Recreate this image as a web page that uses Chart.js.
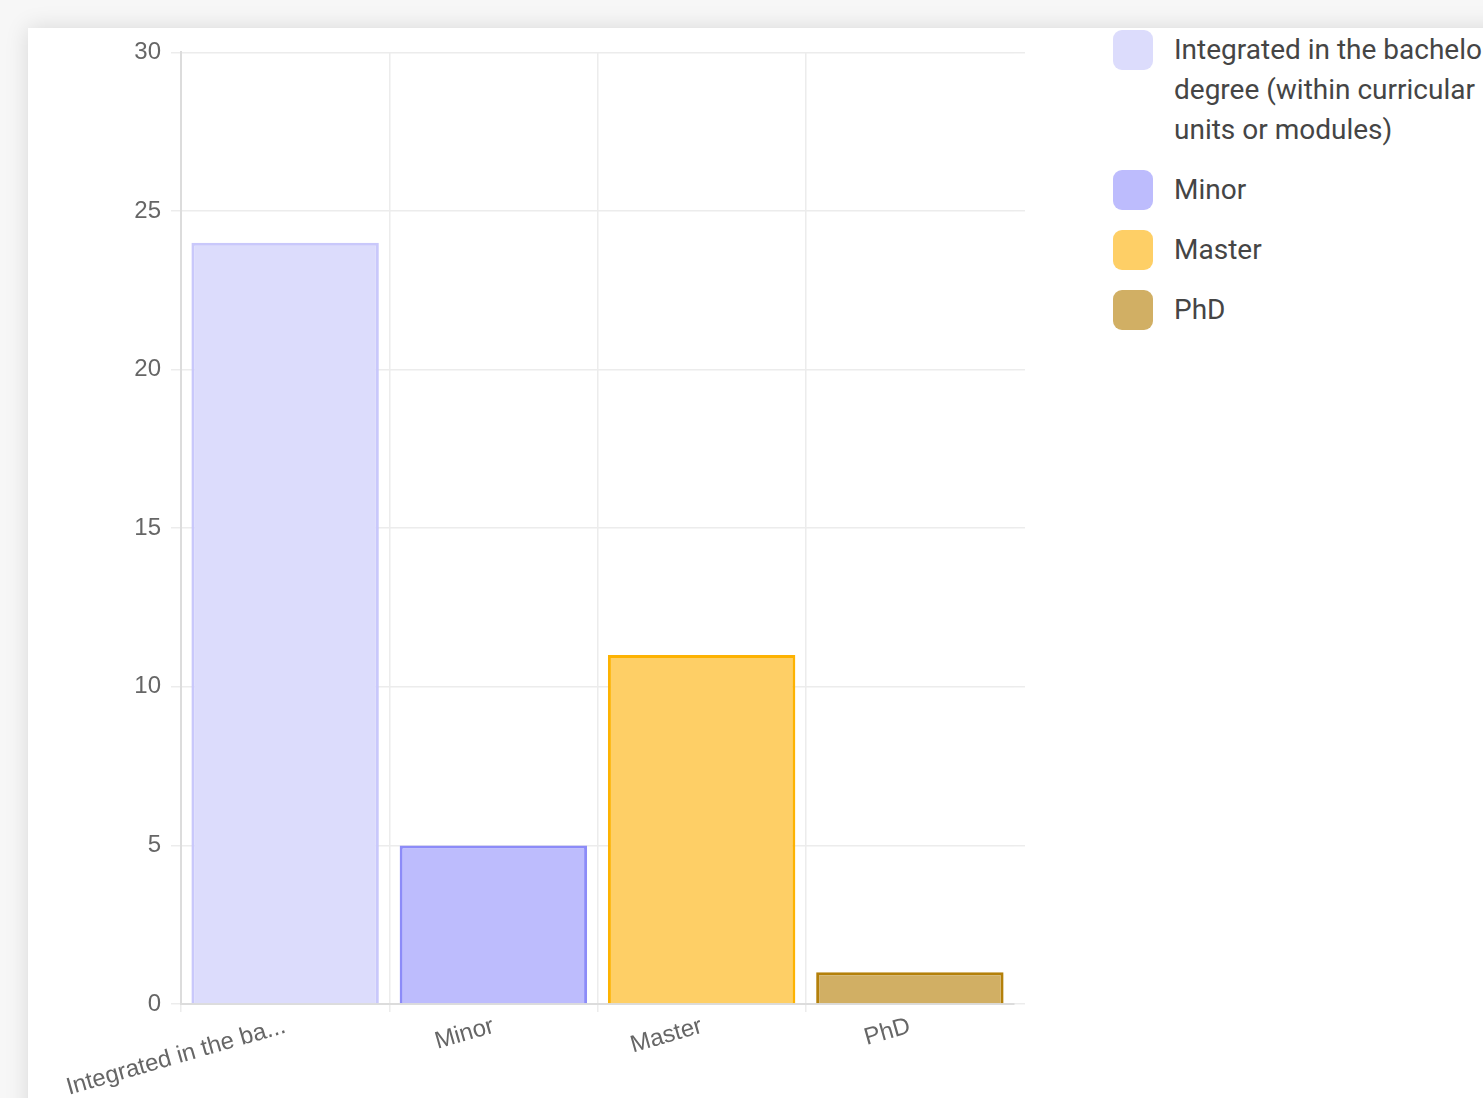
<!DOCTYPE html>
<html>
<head>
<meta charset="utf-8">
<script src="https://cdn.jsdelivr.net/npm/chart.js@4"></script>
<style>
  html, body { margin: 0; padding: 0; overflow: hidden; }
  body { background: #f7f7f7; width: 1483px; height: 1098px; position: relative; }
  .card {
    position: absolute; left: 28px; top: 28px; width: 1600px; height: 1200px;
    background: #fff; box-shadow: 0 0 22px rgba(0,0,0,0.13);
  }
  .chart-box { position: absolute; left: 0; top: 0; width: 1010px; height: 1070px; }
  #legend {
    position: absolute; left: 1085px; top: 2px; width: 520px;
    font-family: Roboto, "Noto Sans", sans-serif; font-size: 28px; line-height: 40px;
    color: #454545;
  }
  #legend .item { display: flex; align-items: flex-start; margin-bottom: 20px; }
  #legend .swatch { width: 40px; height: 40px; border-radius: 9px; flex: none; margin-right: 21px; }
  #legend .label { max-width: 355px; }
</style>
</head>
<body>
<div class="card">
  <div class="chart-box"><canvas id="chart"></canvas></div>
  <div id="legend"></div>
</div>
<script>
const categories = [
  "Integrated in the bachelor's degree (within curricular units or modules)",
  "Minor",
  "Master",
  "PhD"
];
const counts = [24, 5, 11, 1];
const fillColors = ["#dcdcfc", "#bdbcfd", "#fecf66", "#d1af64"];
const lineColors = ["#c9c8fb", "#8c8bf8", "#fdb201", "#b4800a"];

function shortLabel(s){
    return s.length > 20 ? s.slice(0, 20) + "..." : s;
}

function buildLegend(id){
    let box = document.getElementById(id);
    for(let i = 0; i < categories.length; i++){
        let item = document.createElement("div");
        item.className = "item";
        let sw = document.createElement("div");
        sw.className = "swatch";
        sw.style.background = fillColors[i];
        let lb = document.createElement("div");
        lb.className = "label";
        lb.textContent = categories[i];
        item.appendChild(sw);
        item.appendChild(lb);
        box.appendChild(item);
    }
}

function degreeChart(id){
    const tickFont = { family: "'Liberation Sans', Arial, sans-serif", size: 24 };
    const gridColor = "#ececec";
    const data = {
        labels: categories,
        datasets: [{
            label: 'Responses',
            data: counts,
            backgroundColor: fillColors,
            borderColor: lineColors,
            borderWidth: 3,
            barPercentage: 0.9,
            categoryPercentage: 1
        }]
    };
    const config = {
        type: 'bar',
        data: data,
        options: {
            responsive: true,
            maintainAspectRatio: false,
            animation: false,
            layout: { padding: { top: 24, right: 13, left: 0, bottom: 0 } },
            plugins: { legend: { display: false }, tooltip: { enabled: false } },
            scales: {
                x: {
                    grid: {
                        lineWidth: 1.5, tickLength: 8,
                        // the closing line on the right has no tick, leave it out
                        color: (c) => c.tick ? gridColor : 'transparent'
                    },
                    border: { color: "#dcdcdc", width: 2 },
                    ticks: {
                        color: "#666", font: tickFont, padding: 0,
                        minRotation: 16, maxRotation: 16, autoSkip: false,
                        callback: function(v){ return shortLabel(this.getLabelForValue(v)); }
                    },
                    afterFit: function(s){ s.height = 94; }
                },
                y: {
                    min: 0, max: 30,
                    grid: { color: gridColor, lineWidth: 1.5, tickLength: 10 },
                    border: { color: "#dcdcdc", width: 2 },
                    ticks: { color: "#666", font: tickFont, stepSize: 5, padding: 10 },
                    afterFit: function(s){ s.width = 153; }
                },
                // only its tick marks show: the grid lines run a little past the bars
                y2: {
                    position: 'right', min: 0, max: 30,
                    grid: { color: gridColor, lineWidth: 1.5, tickLength: 11, drawOnChartArea: false },
                    border: { display: false },
                    ticks: { display: false, stepSize: 5 },
                    afterFit: function(s){ s.width = 11; }
                }
            }
        }
    };
    let ctx = document.getElementById(id).getContext("2d");
    new Chart(ctx, config);
}

buildLegend("legend");
degreeChart("chart");
</script>
</body>
</html>
